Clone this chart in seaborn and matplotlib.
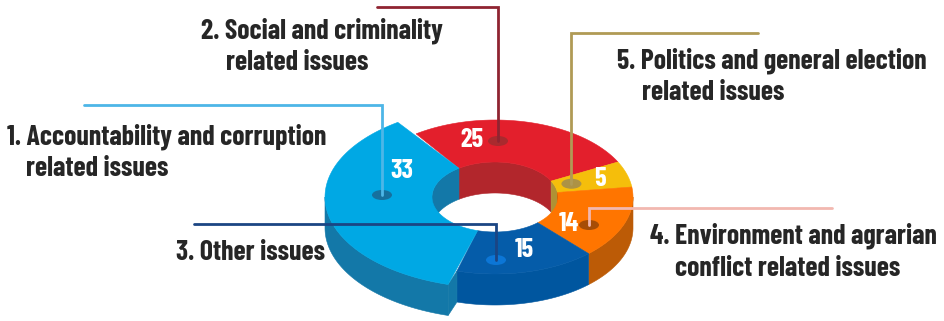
import numpy as np
import matplotlib
matplotlib.use("Agg")
import matplotlib.pyplot as plt
from matplotlib.patches import Ellipse
import seaborn as sns

# Issue groups and their counts
counts = [33, 25, 5, 14, 15]
top_colors = ["#00A8E4", "#E31F2C", "#F5BE0B", "#FF7500", "#055CA9"]
wall_colors = ["#1378A8", "#B2262C", "#AE9235", "#BC5B06", "#00569F"]
marker_colors = ["#16709E", "#A92A2E", "#AD9245", "#A74D06", "#0C76D6"]
leader_colors = ["#4DB6E7", "#8F2431", "#B09A55", "#F2B8B0", "#1B4583"]

label_lines = [
    ["1. Accountability and corruption", "related issues"],
    ["2. Social and criminality", "related issues"],
    ["5. Politics and general election", "related issues"],
    ["4. Environment and agrarian", "conflict related issues"],
    ["3. Other issues"],
]

sns.set_theme(style="white")
plt.rcParams["font.family"] = ["Barlow Condensed", "Liberation Sans", "DejaVu Sans"]

fig = plt.figure(figsize=(9.45, 3.21), dpi=100)
ax = fig.add_axes([0, 0, 1, 1])
ax.set_xlim(0, 945)
ax.set_ylim(321, 0)
ax.axis("off")

# Ring geometry in figure pixels; angles run clockwise from north
CX, CY, DEPTH = 495, 197, 31
OUTER = (138, 77)
INNER = (63, 35)
RAISED = (170, 91)
START = 196.0


def ring_xy(deg, radii, drop=0):
    a = np.radians(deg)
    return CX + radii[0] * np.sin(a), CY - radii[1] * np.cos(a) + drop


def sweep(a0, a1, radii, drop=0):
    t = np.linspace(a0, a1, 80)
    return np.column_stack(ring_xy(t, radii, drop))


def wall(a0, a1, radii, color, z):
    poly = np.vstack([sweep(a0, a1, radii), sweep(a1, a0, radii, DEPTH)])
    ax.fill(poly[:, 0], poly[:, 1], color=color, lw=0.4, zorder=z)


def overlap(a0, a1, spans):
    return [(max(a0, s0), min(a1, s1)) for s0, s1 in spans if max(a0, s0) < min(a1, s1)]


shares = np.array(counts) / sum(counts) * 360
ends = START + np.cumsum(shares)
starts = ends - shares

outer_faces = [(90, 270), (450, 630)]
inner_faces = [(270, 450)]

for i, (a0, a1) in enumerate(zip(starts, ends)):
    radii = RAISED if i == 0 else OUTER
    z = 3 if i == 0 else 1
    for s0, s1 in overlap(a0, a1, inner_faces):
        wall(s0, s1, INNER, wall_colors[i], z)
    for s0, s1 in overlap(a0, a1, outer_faces):
        wall(s0, s1, radii, wall_colors[i], z)

# End face of the raised slice, where it stands proud of the ring
p0 = ring_xy(starts[0], RAISED)
p1 = ring_xy(starts[0], OUTER)
ax.fill([p0[0], p1[0], p1[0], p0[0]],
        [p0[1], p1[1], p1[1] + DEPTH, p0[1] + DEPTH],
        color=wall_colors[0], lw=0.4, zorder=3)

for i, (a0, a1) in enumerate(zip(starts, ends)):
    radii = RAISED if i == 0 else OUTER
    poly = np.vstack([sweep(a0, a1, radii), sweep(a1, a0, INNER)])
    ax.fill(poly[:, 0], poly[:, 1], color=top_colors[i], lw=0.4, zorder=4 if i == 0 else 2)

# Leader lines ending in small ellipses on each slice
mids = (starts + ends) / 2
yellow_x, yellow_y = ring_xy(mids[2], (OUTER[0] * 0.58, OUTER[1] * 0.58))
anchors = [(382, 195), (498, 141), (yellow_x, yellow_y), (589, 225), (496, 260)]
elbows = [(84, 105), (377, 7), (758, 33), (832, 208), (194, 224)]

for (mx, my), (ex, ey), lc, mc in zip(anchors, elbows, leader_colors, marker_colors):
    ax.add_patch(Ellipse((mx, my), 20, 10, color=mc, lw=0, zorder=5))
    ax.plot([ex, mx, mx], [ey, ey, my], color=lc, lw=2, zorder=6, solid_joinstyle="miter")

# Values printed on the slices
five_x, five_y = ring_xy(mids[2], (OUTER[0] * 0.8, OUTER[1] * 0.8))
value_spots = [(402, 171), (472, 140), (five_x, five_y), (569, 224), (524, 250)]
for v, (x, y) in zip(counts, value_spots):
    ax.text(x, y, str(v), color="white", fontsize=19, fontweight="bold",
            ha="center", va="center", zorder=7)

# Category captions: first line start, then the indented continuation
text_color = "#262626"
caption_spots = [(7, 137, 26), (201, 31, 226), (617, 61, 642), (650, 236, 675), (176, 252, 176)]
for lines, (x, y, x2) in zip(label_lines, caption_spots):
    for k, line in enumerate(lines):
        ax.text(x2 if k else x, y + k * 32, line, color=text_color, fontsize=20, fontweight="bold",
                ha="left", va="center", zorder=7)

sns.despine(fig=fig, left=True, bottom=True)
fig.savefig("out.png", dpi=100, facecolor="white")
